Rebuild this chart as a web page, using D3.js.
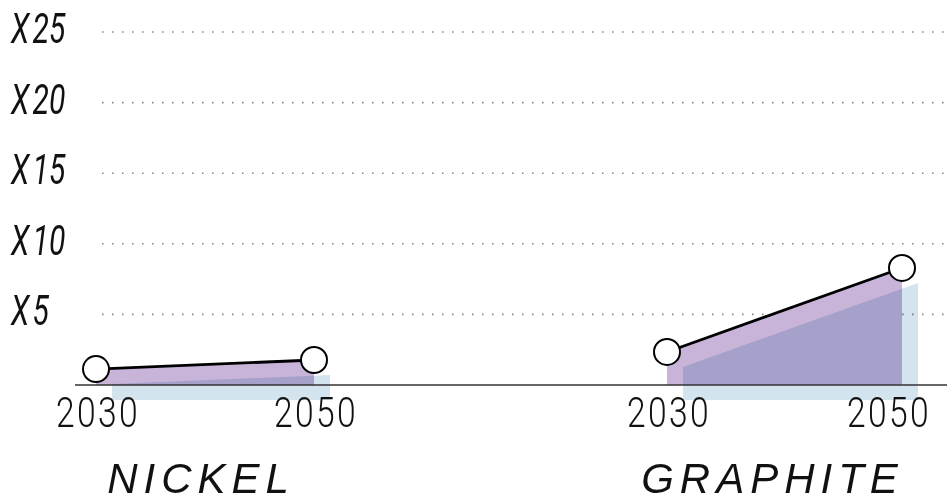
<!DOCTYPE html>
<html>
<head>
<meta charset="utf-8">
<script src="https://cdn.jsdelivr.net/npm/d3@7"></script>
<style>
  body { margin: 0; background: #fff; }
  svg { display: block; }
  .ylab { font-family: Roboto, "Liberation Sans", sans-serif; font-style: italic; font-weight: 400; font-size: 43px; fill: #111; }
  .year { font-family: Roboto, "Liberation Sans", sans-serif; font-weight: 300; font-size: 42px; letter-spacing: 3px; fill: #111; }
  .metal { font-family: "Liberation Sans", Arial, sans-serif; font-style: italic; font-size: 42px; letter-spacing: 6px; fill: #111; }
</style>
</head>
<body>
<div id="chart"></div>
<script>
// data: growth multiple of demand vs today
const metals = ['NICKEL', 'GRAPHITE']
const years = [2030, 2050]
const nickel = [1.13, 1.77]
const graphite = [2.34, 8.29]
const yTicks = [5, 10, 15, 20, 25]

const width = 947, height = 502
const y0 = 385, yTop = 32
// pixel span of each metal's panel (layout only)
const panels = { NICKEL: [96, 314], GRAPHITE: [667, 902] }
const shadow = { dx: 16, dy: 15 }
const narrow = 0.7 // condensed look for the y labels

const series = [
  { name: metals[0], values: nickel },
  { name: metals[1], values: graphite }
]

const y = d3.scaleLinear().domain([0, 25]).range([y0, yTop])

const svg = d3.select('#chart').append('svg')
  .attr('width', width).attr('height', height)

// dotted grid lines
svg.append('g').selectAll('line').data(yTicks).join('line')
  .attr('x1', 102).attr('x2', width)
  .attr('y1', d => y(d)).attr('y2', d => y(d))
  .attr('stroke', '#8a8a8a')
  .attr('stroke-width', 1.6)
  .attr('stroke-dasharray', '1.6 8.4')

// y labels
svg.append('g').selectAll('text').data(yTicks).join('text')
  .attr('class', 'ylab')
  .attr('transform', d => `translate(11,${y(d) + 11}) scale(${narrow},1)`)
  .attr('word-spacing', '-6px')
  .text(d => `X ${d}`)

series.forEach(s => {
  const x = d3.scaleLinear().domain(d3.extent(years)).range(panels[s.name])
  const pts = years.map((yr, i) => ({ yr, v: s.values[i] }))
  const area = d3.area().x(d => x(d.yr)).y0(y(0)).y1(d => y(d.v))
  const g = svg.append('g')

  g.append('path').datum(pts)
    .attr('d', area)
    .attr('fill', '#c9b4d9')

  g.append('path').datum(pts)
    .attr('d', area)
    .attr('transform', `translate(${shadow.dx},${shadow.dy})`)
    .attr('fill', '#d3e4ee')
    .style('mix-blend-mode', 'multiply')

  g.append('path').datum(pts)
    .attr('d', d3.line().x(d => x(d.yr)).y(d => y(d.v)))
    .attr('fill', 'none')
    .attr('stroke', '#000')
    .attr('stroke-width', 2.8)

  // year labels, kept inside the picture
  g.selectAll('text.year').data(pts).join('text')
    .attr('class', 'year')
    .attr('text-anchor', 'middle')
    .attr('transform', d => `translate(${Math.min(x(d.yr) + 2, width - 58)},427) scale(0.8,1)`)
    .text(d => d.yr)

  g.append('text')
    .attr('class', 'metal')
    .attr('text-anchor', 'middle')
    .attr('x', d3.mean(panels[s.name]) - (s.name === 'GRAPHITE' ? 12 : 4))
    .attr('y', 493)
    .text(s.name)

  s.x = x
  s.pts = pts
})

// baseline
svg.append('line')
  .attr('x1', 75).attr('x2', width)
  .attr('y1', y(0)).attr('y2', y(0))
  .attr('stroke', '#333').attr('stroke-width', 1.6)

// markers on top
series.forEach(s => {
  svg.append('g').selectAll('circle').data(s.pts).join('circle')
    .attr('cx', d => s.x(d.yr))
    .attr('cy', d => y(d.v))
    .attr('r', 13)
    .attr('fill', '#fff')
    .attr('stroke', '#000')
    .attr('stroke-width', 2)
})
</script>
</body>
</html>
